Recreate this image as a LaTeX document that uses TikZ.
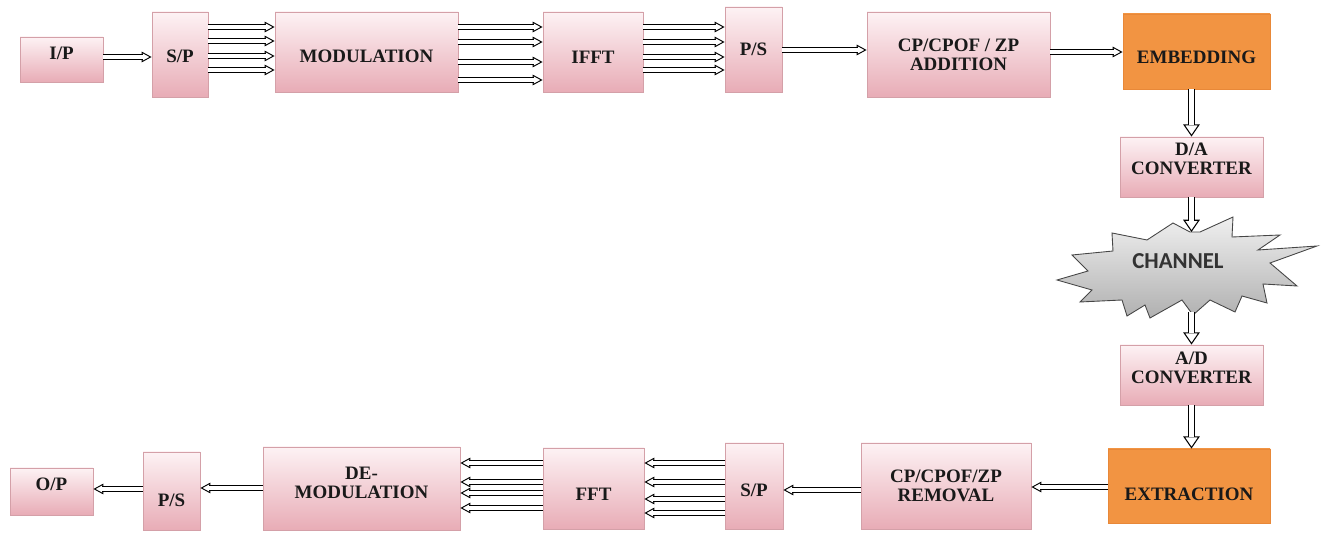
\documentclass[tikz,border=0pt]{standalone}
\usepackage{fontspec}
\setmainfont{Liberation Serif}
\setsansfont{Carlito}
\usetikzlibrary{arrows.meta}
\definecolor{pktop}{RGB}{253,242,244}
\definecolor{pkbot}{RGB}{232,172,182}
\definecolor{pkline}{RGB}{212,160,168}
\definecolor{orng}{RGB}{242,148,66}
\definecolor{orline}{RGB}{232,136,56}
\newcommand\tx[2]{\raisebox{\dimexpr#1-1.4pt\relax}[\height][\depth]{\begin{tabular}{@{}c@{}}#2\end{tabular}}}
\newcommand\harrow[2]{\draw[hhead] #1 -- #2; \draw[hstem] #1 -- #2;}
\newcommand\varrow[2]{\draw[vhead] #1 -- #2; \draw[vstem] #1 -- #2;}
\begin{document}
\begin{tikzpicture}[x=0.02cm,y=-0.02cm,
  box/.style={draw=pkline, line width=0.5pt, top color=pktop, bottom color=pkbot,
    inner sep=0pt, text=black!90, font=\bfseries\fontsize{10.8}{10.8}\selectfont},
  obox/.style={box, draw=orline, top color=orng, bottom color=orng},
  bx/.style n args={4}{minimum width={(#3-#1)*0.02cm}, minimum height={(#4-#2)*0.02cm},
    at={({(#1+#3)/2},{(#2+#4)/2})}},
  hhead/.style={line width=0.55pt, -{Triangle[open, length=5.6pt, width=6pt]}},
  hstem/.style={draw=black, double=white, double distance=2.2pt, line width=0.55pt, shorten >=5pt},
  vhead/.style={line width=0.6pt, -{Triangle[open, length=7pt, width=9.5pt]}},
  vstem/.style={draw=black, double=white, double distance=3.2pt, line width=0.6pt, shorten >=6.3pt}]
\useasboundingbox (0,0) rectangle (1323,533);
% top row
\node[box, bx={20}{37}{103}{82}] (ip) {\tx{3.4pt}{I/P}};
\node[box, bx={152}{12}{208}{97}] (sp1) {\tx{-0.8pt}{S/P}};
\node[box, bx={275}{12}{458}{92}] (mod) {\tx{-2.3pt}{MODULATION}};
\node[box, bx={543}{12}{643}{92}] (ifft) {\tx{-2.8pt}{IFFT}};
\node[box, bx={725}{7}{782}{92}] (ps1) {\tx{0pt}{P/S}};
\node[box, bx={867}{12}{1050}{97}] (cpa) {\tx{0pt}{CP/CPOF / ZP\\ADDITION}};
\node[obox, bx={1123}{14}{1270}{89}] (emb) {\tx{-3.4pt}{EMBEDDING}};
% right column
\node[box, bx={1120}{137}{1263}{197}] (da) {\tx{4.5pt}{D/A\\CONVERTER}};
\node[box, bx={1120}{345}{1263}{405}] (ad) {\tx{4pt}{A/D\\CONVERTER}};
\node[obox, bx={1108}{449}{1270}{523}] (ext) {\tx{-4.5pt}{EXTRACTION}};
% bottom row
\node[box, bx={861}{443}{1031}{529}] (cpr) {\tx{0pt}{CP/CPOF/ZP\\REMOVAL}};
\node[box, bx={725}{443}{783}{529}] (sp2) {\tx{-2.3pt}{S/P}};
\node[box, bx={543}{448}{644}{529}] (fft) {\tx{-3.4pt}{FFT}};
\node[box, bx={263}{447}{460}{530}] (dem) {\tx{3.4pt}{DE-\\MODULATION}};
\node[box, bx={143}{452}{200}{530}] (ps2) {\tx{-5.1pt}{P/S}};
\node[box, bx={10}{468}{93}{515}] (op) {\tx{4pt}{O/P}};
% channel starburst
\path[draw=gray!55!black, line width=0.5pt, top color=gray!12, bottom color=gray!62]
  (1072,255) -- (1113,251) -- (1112,233) -- (1147,240) -- (1173,223) -- (1190,232)
  -- (1200,232) -- (1233,217) -- (1232,237) -- (1280,235) -- (1258,250) -- (1317,246)
  -- (1270,263) -- (1297,286) -- (1263,284) -- (1267,303) -- (1242,296) -- (1235,312)
  -- (1210,300) -- (1193,315) -- (1182,300) -- (1150,318) -- (1145,305) -- (1127,316)
  -- (1122,300) -- (1080,302) -- (1092,290) -- (1057,280) -- (1088,271) -- cycle;
\node[font=\sffamily\bfseries\fontsize{13}{14}\selectfont, text=black!80] (ch) at (1178,261) {CHANNEL};
\coordinate (chtop) at (1191.5,232);
\coordinate (chbot) at (1191.5,312);
% arrows top row
\harrow{(ip.east |- 0,57)}{(sp1.west |- 0,57)}
\foreach \y in {27,41,56,70} {\harrow{(sp1.east |- 0,\y)}{(mod.west |- 0,\y)}}
\foreach \y in {27,42,62,80} {\harrow{(mod.east |- 0,\y)}{(ifft.west |- 0,\y)}}
\foreach \y in {27,42,57,70} {\harrow{(ifft.east |- 0,\y)}{(ps1.west |- 0,\y)}}
\harrow{(ps1.east |- 0,50)}{(cpa.west |- 0,50)}
\harrow{(cpa.east |- 0,52)}{(emb.west |- 0,52)}
% vertical arrows
\varrow{(da.north |- emb.south)}{(da.north)}
\varrow{(da.south)}{(chtop)}
\varrow{(chbot)}{(ad.north)}
\varrow{(ad.south)}{(ad.south |- ext.north)}
% bottom row arrows
\harrow{(ext.west |- 0,487)}{(cpr.east |- 0,487)}
\harrow{(cpr.west |- 0,490)}{(sp2.east |- 0,490)}
\foreach \y in {463,482,499,513} {\harrow{(sp2.west |- 0,\y)}{(fft.east |- 0,\y)}}
\foreach \y in {463,482,493,508} {\harrow{(fft.west |- 0,\y)}{(dem.east |- 0,\y)}}
\harrow{(dem.west |- 0,488)}{(ps2.east |- 0,488)}
\harrow{(ps2.west |- 0,489)}{(op.east |- 0,489)}
\end{tikzpicture}
\end{document}
